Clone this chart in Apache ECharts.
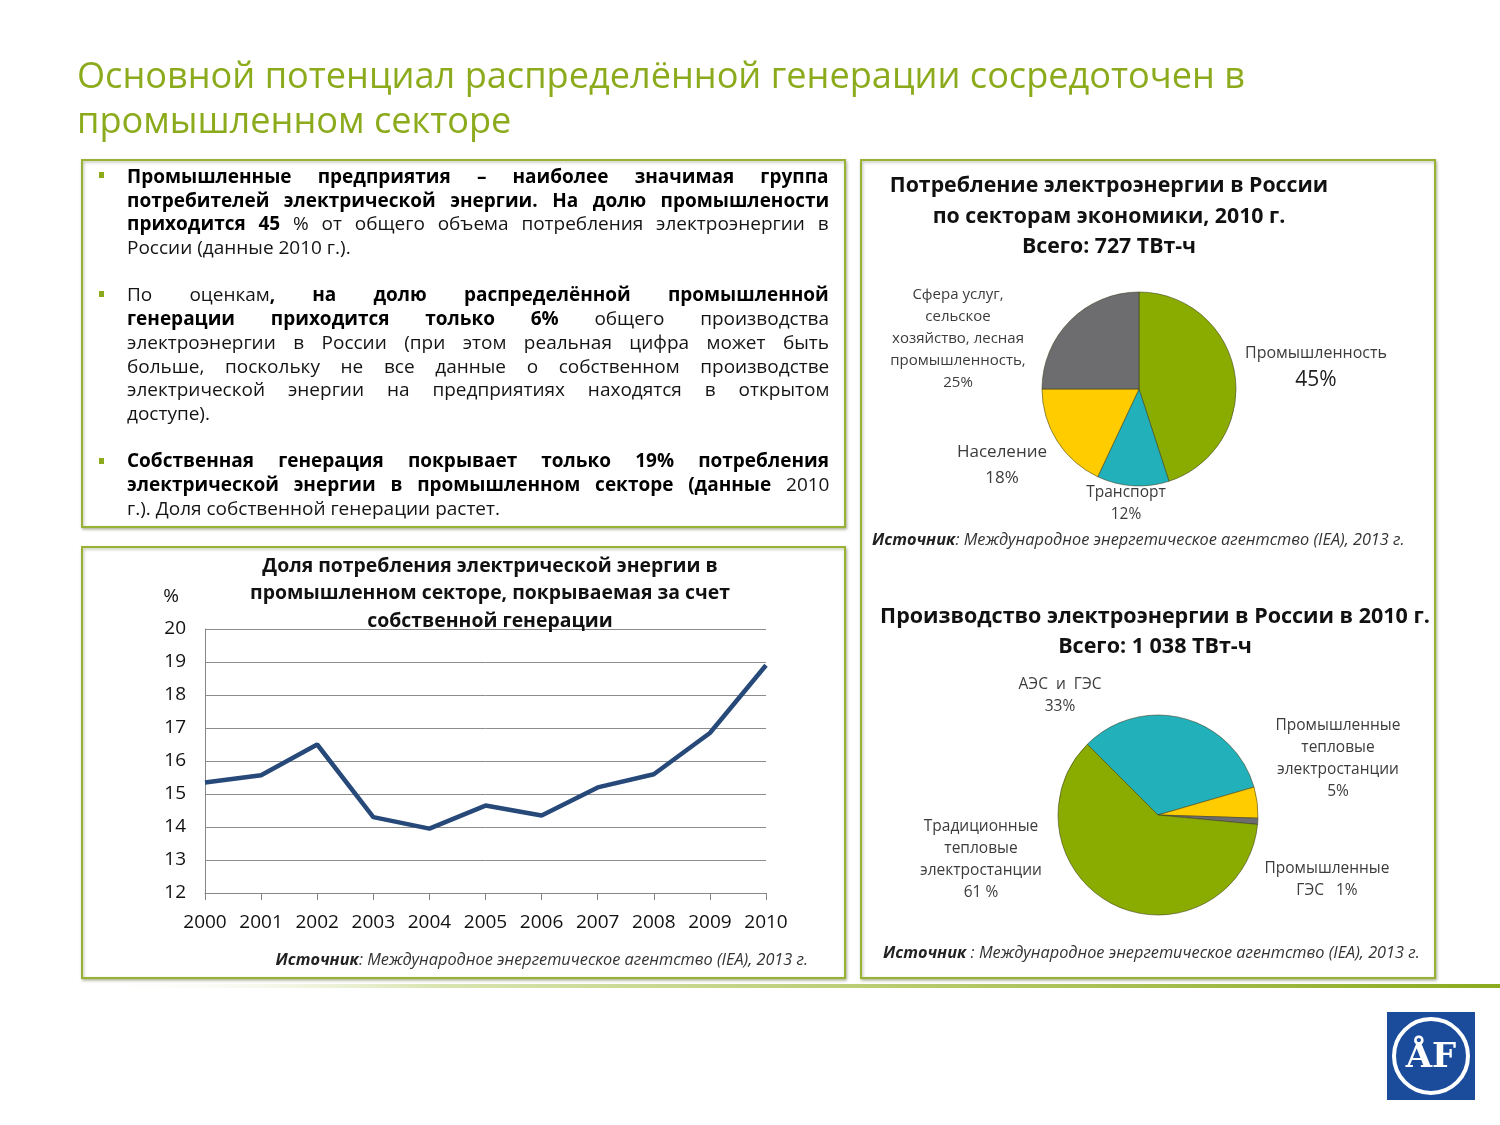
<!DOCTYPE html>
<html><head><meta charset="utf-8">
<script src="https://cdn.jsdelivr.net/npm/echarts@6/dist/echarts.min.js"></script>
<style>
html,body{margin:0;padding:0;background:#fff;}
#chart{position:absolute;left:0;top:0;width:1500px;height:1125px;}
#title{position:absolute;left:77px;top:52px;color:#8cab1c;font-family:"Open Sans",sans-serif;font-size:36px;line-height:45px;white-space:nowrap;transform-origin:0 0;}
#title span{display:inline-block;}
#bul{position:absolute;left:127px;top:165px;font-family:"Open Sans",sans-serif;font-size:19px;line-height:23.7px;color:#141414;transform-origin:0 0;}
.ln{white-space:nowrap;height:23.7px;}
.gap{height:23.7px;}
.sq{position:absolute;width:5px;height:6px;background:#8cab1c;}
b{font-weight:bold;color:#000;}
</style></head>
<body>
<div id="chart"></div>
<div id="title"><div><span id="t1">Основной потенциал распределённой генерации сосредоточен в</span></div><div><span>промышленном секторе</span></div></div>
<div class="sq" style="left:99px;top:172px"></div>
<div class="sq" style="left:99px;top:291px"></div>
<div class="sq" style="left:99px;top:458px"></div>
<div id="bul">
<div class="ln j"><span><b>Промышленные предприятия – наиболее значимая группа</b></span></div>
<div class="ln j"><span><b>потребителей электрической энергии. На долю промышлености</b></span></div>
<div class="ln j"><span><b>приходится 45</b> % от общего объема потребления электроэнергии в</span></div>
<div class="ln"><span>России (данные 2010 г.).</span></div>
<div class="gap"></div>
<div class="ln j"><span>По оценкам<b>, на долю распределённой промышленной</b></span></div>
<div class="ln j"><span><b>генерации приходится только 6%</b> общего производства</span></div>
<div class="ln j"><span>электроэнергии в России (при этом реальная цифра может быть</span></div>
<div class="ln j"><span>больше, поскольку не все данные о собственном производстве</span></div>
<div class="ln j"><span>электрической энергии на предприятиях находятся в открытом</span></div>
<div class="ln"><span>доступе).</span></div>
<div class="gap"></div>
<div class="ln j"><span><b>Собственная генерация покрывает только 19% потребления</b></span></div>
<div class="ln j"><span><b>электрической энергии в промышленном секторе (данные</b> 2010</span></div>
<div class="ln"><span>г.). Доля собственной генерации растет.</span></div>
</div>
<script>
// ---- data ----
const years = ['2000','2001','2002','2003','2004','2005','2006','2007','2008','2009','2010'];
const ownGenShare = [15.35, 15.57, 16.5, 14.3, 13.95, 14.65, 14.35, 15.2, 15.6, 16.85, 18.9];
const yMin = 12, yMax = 20, yStep = 1;

const consNames = ['Промышленность', 'Транспорт', 'Население', 'Сфера услуг,\nсельское\nхозяйство, лесная\nпромышленность,'];
const consShares = [45, 12, 18, 25];

const prodNames = ['АЭС  и  ГЭС', 'Промышленные\nтепловые\nэлектростанции', 'Промышленные\nГЭС', 'Традиционные\nтепловые\nэлектростанции'];
const prodShares = [33, 5, 1, 61];
const prodPctSep = ['\n', '\n', '   ', '\n'];
const prodPctSuffix = ['%', '%', '%', ' %'];

// ---- styles / layout ----
const FONT = '"Open Sans", sans-serif';
const GREEN = '#8aab00', TEAL = '#22b1bb', YELLOW = '#ffcc00', GRAY = '#6d6d70';
const consColors = [GREEN, TEAL, YELLOW, GRAY];
const prodColors = [TEAL, YELLOW, GRAY, GREEN];
const consLabelPos = [[1316, 367], [1126, 504], [1002, 465], [958, 339]];
const consLabelFont = [16, 15.5, 17, 15];
const consLabelLH = [27, 22, 26, 22];
const prodLabelPos = [[1060, 696], [1338, 759], [1327, 880], [981, 860]];
const LABEL_COLOR = '#3c3c3c';
const BORDER = '#98b236';

const chart = echarts.init(document.getElementById('chart'));

function boxRect(x, y, w, h) {
  return {type:'rect', z:-10, shape:{x:x, y:y, width:w, height:h},
    style:{fill:'#fff', stroke:BORDER, lineWidth:2, shadowBlur:3, shadowColor:'rgba(60,70,0,0.35)', shadowOffsetX:1, shadowOffsetY:1.5}};
}
function txt(x, y, text, opts) {
  return {type:'text', z:5, x:x, y:y, style:Object.assign({text:text, fill:'#111', fontFamily:FONT, fontSize:16,
    align:'center', verticalAlign:'middle', textAlign:'center', textVerticalAlign:'middle'}, opts || {})};
}
const srcRich = {b:{fontWeight:'bold', fontStyle:'italic', fontSize:16.3, fontFamily:FONT, fill:'#222', color:'#222'},
                 i:{fontStyle:'italic', fontSize:16.3, fontFamily:FONT, fill:'#333', color:'#333'}};

const option = {
  animation: false,
  graphic: [
    boxRect(82, 160, 763, 367),
    boxRect(82, 547, 763, 431),
    boxRect(861, 160, 574, 818),
    {type:'rect', z:-5, shape:{x:80, y:984, width:1420, height:4},
      style:{fill:new echarts.graphic.LinearGradient(0,0,1,0,[
        {offset:0, color:'rgba(255,255,255,0)'},{offset:0.25, color:'#d9e4b0'},{offset:0.6, color:'#b5c96a'},{offset:1, color:'#8aab1f'}])}},
    // logo
    {type:'rect', shape:{x:1387, y:1012, width:88, height:88}, style:{fill:'#1b4c9c'}},
    {type:'circle', shape:{cx:1431, cy:1056, r:37}, style:{fill:'none', stroke:'#fff', lineWidth:4}},
    txt(1431, 1058, 'ÅF', {fill:'#fff', fontSize:34, fontWeight:'bold', fontFamily:'"DejaVu Serif", serif'}),
    // line chart title and texts
    txt(490, 593.5, 'Доля потребления электрической энергии в\nпромышленном секторе, покрываемая за счет\nсобственной генерации',
      {fontSize:19.4, fontWeight:'bold', lineHeight:27.5}),
    txt(171, 597, '%', {fontSize:19, fill:'#111'}),
    txt(808, 960, '{b|Источник}{i|: Международное энергетическое агентство (IEA), 2013 г.}',
      {align:'right', textAlign:'right', rich:srcRich}),
    // pie 1 texts
    txt(1109, 216.5, 'Потребление электроэнергии в России\nпо секторам экономики, 2010 г.\nВсего: 727 ТВт-ч',
      {fontSize:21.3, fontWeight:'bold', lineHeight:30.5}),
    txt(872, 540, '{b|Источник}{i|: Международное энергетическое агентство (IEA), 2013 г.}',
      {align:'left', textAlign:'left', rich:srcRich}),
    // pie 2 texts
    txt(1155, 632, 'Производство электроэнергии в России в 2010 г.\nВсего: 1 038 ТВт-ч',
      {fontSize:21.5, fontWeight:'bold', lineHeight:30}),
    txt(883, 953, '{b|Источник}{i| : Международное энергетическое агентство (IEA), 2013 г.}',
      {align:'left', textAlign:'left', rich:srcRich})
  ],
  grid: {left:205, top:629, width:561, height:264},
  xAxis: {type:'category', data:years, boundaryGap:false,
    axisLine:{lineStyle:{color:'#868686', width:1}},
    axisTick:{show:true, length:7, interval:0, lineStyle:{color:'#868686'}},
    axisLabel:{fontSize:19, color:'#111', margin:20, fontFamily:FONT, interval:0, hideOverlap:false}},
  yAxis: {type:'value', min:yMin, max:yMax, interval:yStep,
    axisLine:{show:true, lineStyle:{color:'#868686'}},
    axisTick:{show:false},
    splitLine:{lineStyle:{color:'#8c8c8c', width:1}},
    axisLabel:{fontSize:19, color:'#111', margin:19, fontFamily:FONT}},
  series: [
    {type:'line', data:ownGenShare, showSymbol:false, symbol:'none',
      lineStyle:{color:'#26497a', width:4.5}, z:3},
    {type:'pie', center:[1139, 389], radius:97, startAngle:90, clockwise:true,
      avoidLabelOverlap:false,
      itemStyle:{borderColor:'rgba(60,60,30,0.55)', borderWidth:1},
      label:{show:true, color:LABEL_COLOR, fontFamily:FONT},
      labelLine:{show:false},
      labelLayout:function(p){const q=consLabelPos[p.dataIndex];return {x:q[0], y:q[1], align:'center', verticalAlign:'middle'};},
      data: consNames.map((n, i) => ({name:n, value:consShares[i], itemStyle:{color:consColors[i]},
        label:{formatter:'{n|{b}}\n{p|{c}%}', rich:{
          n:{fontSize:consLabelFont[i], lineHeight:consLabelLH[i], color:LABEL_COLOR, fontFamily:FONT, align:'center'},
          p:{fontSize:i===0?21:consLabelFont[i], lineHeight:consLabelLH[i], color:i===0?'#222':LABEL_COLOR, fontFamily:FONT, align:'center'}}}}))
    },
    {type:'pie', center:[1158, 815], radius:100, startAngle:135, clockwise:true,
      avoidLabelOverlap:false,
      itemStyle:{borderColor:'rgba(60,60,30,0.55)', borderWidth:1},
      label:{show:true, color:LABEL_COLOR, fontFamily:FONT, fontSize:15.5, lineHeight:22, align:'center',
        formatter:function(p){return p.name + prodPctSep[p.dataIndex] + p.value + prodPctSuffix[p.dataIndex];}},
      labelLine:{show:false},
      labelLayout:function(p){const q=prodLabelPos[p.dataIndex];return {x:q[0], y:q[1], align:'center', verticalAlign:'middle'};},
      data: prodNames.map((n, i) => ({name:n, value:prodShares[i], itemStyle:{color:prodColors[i]}}))
    }
  ]
};
chart.setOption(option);

function layoutText(){
  const W = 702;
  const box = document.getElementById('bul');
  const spans = [...box.querySelectorAll('.ln > span')];
  box.style.transform = 'none';
  let maxw = 0;
  spans.forEach(s => { s.style.wordSpacing = '0px'; if (s.parentNode.classList.contains('j')) maxw = Math.max(maxw, s.offsetWidth); });
  const c = Math.min(1, W / maxw);
  box.style.transform = 'scaleX(' + c + ')';
  box.style.width = (W / c) + 'px';
  spans.forEach(s => {
    if (!s.parentNode.classList.contains('j')) return;
    const w = s.offsetWidth;
    const n = (s.textContent.replace(/\s+/g, ' ').trim().match(/ /g) || []).length;
    if (n) s.style.wordSpacing = ((W / c - w) / n) + 'px';
  });
  const t = document.getElementById('title');
  const tw = document.getElementById('t1').offsetWidth;
  t.style.transform = 'scaleX(' + (1168 / tw) + ')';
}
layoutText();
if (document.fonts && document.fonts.ready) document.fonts.ready.then(layoutText);
</script>
</body></html>
